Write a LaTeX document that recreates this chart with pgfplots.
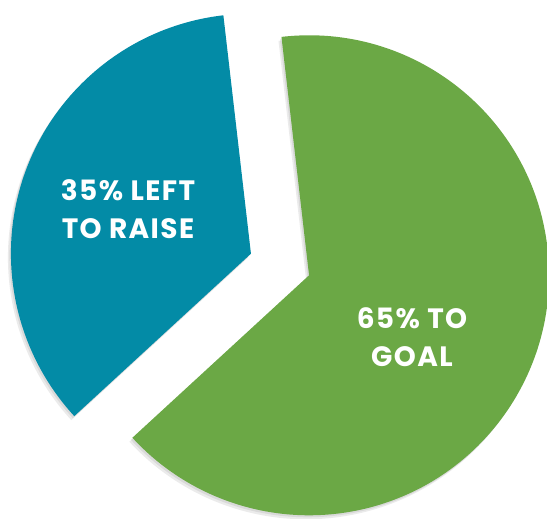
\documentclass[border=0pt]{standalone}
\usepackage{pgfplots}
\pgfplotsset{compat=1.18}
\usepackage{pgfplotstable}
\usepackage{fontspec}
\setmainfont{Poppins}
\newfontfamily\labelfont[LetterSpace=5]{Poppins}

\definecolor{raiseblue}{RGB}{3,139,166}
\definecolor{goalgreen}{RGB}{107,168,69}

% share of the goal, and how far each slice is pulled out (pt)
\pgfplotstableread{
pct explode
35 31
65 31
}\piedata

\pgfplotstablegetelem{0}{pct}\of\piedata \let\pctA\pgfplotsretval
\pgfplotstablegetelem{1}{pct}\of\piedata \let\pctB\pgfplotsretval
\pgfplotstablegetelem{0}{explode}\of\piedata \let\expA\pgfplotsretval
\pgfplotstablegetelem{1}{explode}\of\piedata \let\expB\pgfplotsretval

\def\cx{280}\def\cy{254.5}\def\rad{240}
\pgfmathsetmacro{\startang}{96.6}
\pgfmathsetmacro{\endA}{\startang+3.6*\pctA}
\pgfmathsetmacro{\endB}{\startang-3.6*\pctB}
\pgfmathsetmacro{\midA}{(\startang+\endA)/2}
\pgfmathsetmacro{\midB}{(\startang+\endB)/2}
\pgfmathsetmacro{\axA}{\cx+\expA*cos(\midA)}
\pgfmathsetmacro{\ayA}{\cy+\expA*sin(\midA)}
\pgfmathsetmacro{\axB}{\cx+\expB*cos(\midB)}
\pgfmathsetmacro{\ayB}{\cy+\expB*sin(\midB)}

\newcommand{\pieslice}[5]{%
  \fill[#1] (axis cs:#2,#3) -- ++(#4:\rad pt) arc[start angle=#4, end angle=#5, radius=\rad pt] -- cycle;}

\begin{document}
\begin{tikzpicture}
\begin{axis}[
  x=1pt, y=1pt,
  xmin=0, xmax=547, ymin=0, ymax=519,
  hide axis, clip=true,
]
\path (axis cs:0,0) coordinate (ll) (axis cs:547,519) coordinate (ur);

% soft shadow
\pieslice{black, opacity=0.08}{\axA-3}{\ayA-4}{\startang}{\endA}
\pieslice{black, opacity=0.08}{\axA-1.5}{\ayA-2}{\startang}{\endA}
\pieslice{black, opacity=0.08}{\axB-3}{\ayB-4}{\startang}{\endB}
\pieslice{black, opacity=0.08}{\axB-1.5}{\ayB-2}{\startang}{\endB}

\pieslice{raiseblue}{\axA}{\ayA}{\startang}{\endA}
\pieslice{goalgreen}{\axB}{\ayB}{\startang}{\endB}

\node[white, font=\labelfont\bfseries\fontsize{28}{38}\selectfont, align=center]
  at (axis cs:128,310) {35\% LEFT\\TO RAISE};
\node[white, font=\labelfont\bfseries\fontsize{28}{38}\selectfont, align=center]
  at (axis cs:412,182) {65\% TO\\GOAL};
\end{axis}
\pgfresetboundingbox
\useasboundingbox (ll) rectangle (ur);
\end{tikzpicture}
\end{document}
